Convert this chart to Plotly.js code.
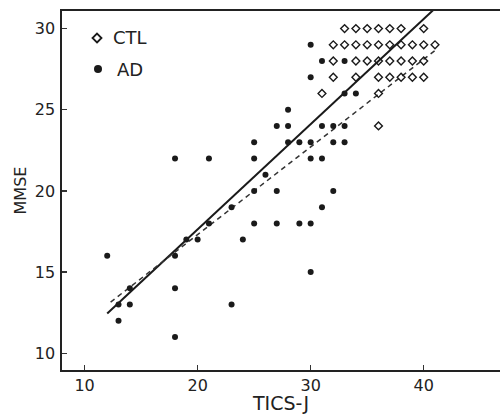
<!DOCTYPE html>
<html>
<head>
<meta charset="utf-8">
<script src="https://cdn.plot.ly/plotly-3.0.1.min.js"></script>
<style>html,body{margin:0;padding:0;background:#fff;}#chart{width:500px;height:414px;}</style>
</head>
<body>
<div id="chart"></div>
<script>
// CTL (controls) – open diamonds
const ctlTICS = [33,34,35,36,37,38,40, 32,33,34,35,36,37,38,39,40,41, 32,34,35,36,37,38,39,40, 32,34,36,37,38,39,40, 31,36, 36];
const ctlMMSE = [30,30,30,30,30,30,30, 29,29,29,29,29,29,29,29,29,29, 28,28,28,28,28,28,28,28, 27,27,27,27,27,27,27, 26,26, 24];

// AD patients – filled dots
const adTICS = [30, 31,33, 30, 33,34, 28, 27,28,31,32,33, 25,28,29,30,32,33, 18,21,25,30,31, 26, 25,27,32, 23,31, 21,25,27,29,30, 19,20,24, 12,18, 30, 14,18, 13,14,23, 13, 18];
const adMMSE = [29, 28,28, 27, 26,26, 25, 24,24,24,24,24, 23,23,23,23,23,23, 22,22,22,22,22, 21, 20,20,20, 19,19, 18,18,18,18,18, 17,17,17, 16,16, 15, 14,14, 13,13,13, 12, 11];

// regression lines: MMSE = intercept + slope * TICS-J
const solidFit = {intercept: 4.67, slope: 0.648, xFrom: 12.0, xTo: 41.5};
const dashFit  = {intercept: 6.51, slope: 0.54,  xFrom: 12.3, xTo: 41.0};

const xTicks = [10, 20, 30, 40];
const yTicks = [10, 15, 20, 25, 30];
const legendLabels = ['CTL', 'AD'];

function fitLine(f) {
  const xs = [f.xFrom, f.xTo];
  return {x: xs, y: xs.map(v => f.intercept + f.slope * v)};
}
const sLine = fitLine(solidFit);
const dLine = fitLine(dashFit);

const ink = '#1a1a1a';
const traces = [
  {x: sLine.x, y: sLine.y, mode: 'lines', line: {color: ink, width: 2}, showlegend: false, hoverinfo: 'skip'},
  {x: dLine.x, y: dLine.y, mode: 'lines', line: {color: '#333', width: 1.5, dash: '5px,4px'}, showlegend: false, hoverinfo: 'skip'},
  {x: ctlTICS, y: ctlMMSE, mode: 'markers', name: legendLabels[0],
   marker: {symbol: 'diamond-open', size: 6, color: ink, line: {width: 1.4, color: ink}}, showlegend: false},
  {x: adTICS, y: adMMSE, mode: 'markers', name: legendLabels[1],
   marker: {symbol: 'circle', size: 6, color: ink}, showlegend: false}
];

const axisFont = {family: 'DejaVu Sans', size: 16, color: '#222'};
const layout = {
  width: 500, height: 414,
  margin: {l: 62, r: 0, t: 11, b: 44},
  paper_bgcolor: '#fff', plot_bgcolor: '#fff',
  showlegend: false,
  xaxis: {
    range: [8.0, 46.75], tickvals: xTicks, ticktext: xTicks.map(String),
    ticks: 'inside', ticklen: 5, tickwidth: 1.3, tickcolor: '#333',
    showline: true, linewidth: 1.6, linecolor: '#222', mirror: true,
    showgrid: false, zeroline: false, tickfont: axisFont,
    title: {text: 'TICS-J', font: {family: 'DejaVu Sans', size: 19, color: '#222'}, standoff: 8}
  },
  yaxis: {
    range: [8.97, 31.08], tickvals: yTicks, ticktext: yTicks.map(String),
    ticks: 'inside', ticklen: 5, tickwidth: 1.3, tickcolor: '#333',
    showline: true, linewidth: 1.6, linecolor: '#222', mirror: false,
    showgrid: false, zeroline: false, tickfont: axisFont, ticklabelstandoff: 2,
    title: {text: 'MMSE', font: {family: 'DejaVu Sans', size: 16, color: '#222'}, standoff: 4}
  },
  shapes: [
    {type: 'path', xref: 'paper', yref: 'paper', xsizemode: 'pixel', ysizemode: 'pixel',
     xanchor: 0.0799, yanchor: 0.9248, path: 'M0,-4.5 L4.5,0 L0,4.5 L-4.5,0 Z',
     line: {color: ink, width: 1.8}, fillcolor: 'rgba(0,0,0,0)'},
    {type: 'circle', xref: 'paper', yref: 'paper', xsizemode: 'pixel', ysizemode: 'pixel',
     xanchor: 0.0822, yanchor: 0.8384, x0: -4, x1: 4, y0: -4, y1: 4,
     line: {color: ink, width: 0}, fillcolor: ink}
  ],
  annotations: [
    {text: legendLabels[0], xref: 'paper', yref: 'paper', x: 0.1119, y: 0.9248, xanchor: 'left', yanchor: 'middle',
     showarrow: false, font: {family: 'DejaVu Sans', size: 18, color: '#222'}},
    {text: legendLabels[1], xref: 'paper', yref: 'paper', x: 0.1210, y: 0.8384, xanchor: 'left', yanchor: 'middle',
     showarrow: false, font: {family: 'DejaVu Sans', size: 18, color: '#222'}}
  ]
};

Plotly.newPlot('chart', traces, layout, {staticPlot: true, displayModeBar: false});
</script>
</body>
</html>
